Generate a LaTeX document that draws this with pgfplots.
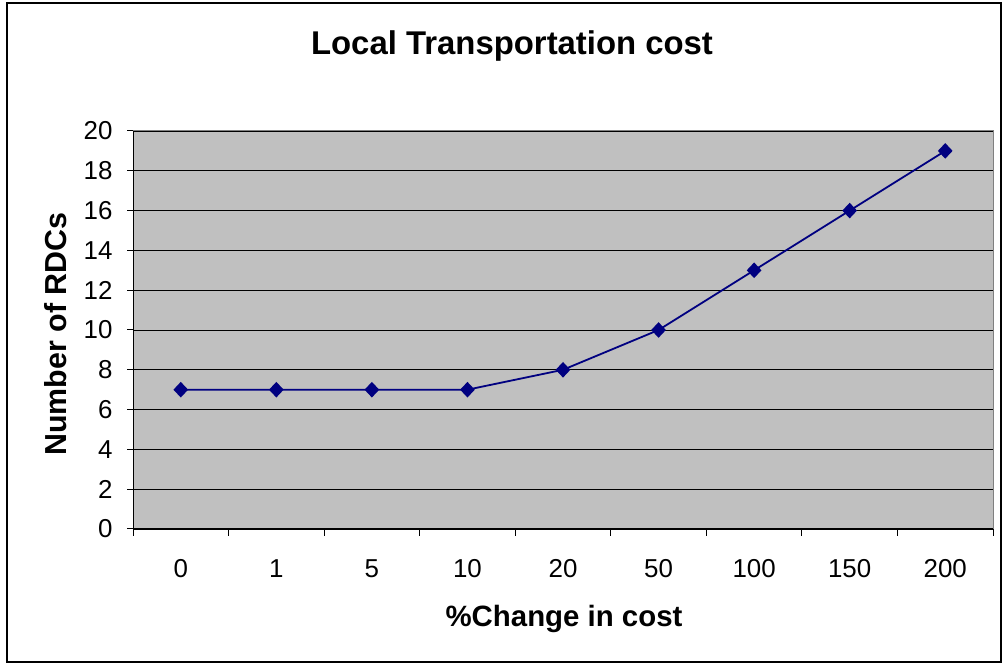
\documentclass[border=0pt]{standalone}
\usepackage{fontspec}
\setmainfont{Liberation Sans}
\usepackage{pgfplots}
\pgfplotsset{compat=1.18}
\definecolor{plotgray}{HTML}{C0C0C0}
\definecolor{seriesblue}{HTML}{000080}
\begin{document}
\begin{tikzpicture}[x=1bp,y=1bp]
% page extent and outer frame
\path (0,0) rectangle (1003,664);
\draw[line width=2.5bp] (7,2) rectangle (1001,661);
% titles
\node[font=\bfseries\fontsize{33}{38}\selectfont] at (512,618) {Local Transportation cost};
\node[font=\bfseries\fontsize{30.5}{34}\selectfont, rotate=90] at (56,330) {Number of RDCs};
\node[font=\bfseries\fontsize{29.5}{34}\selectfont] at (564,45) {\%Change in cost};
\begin{axis}[
  at={(133bp,135bp)}, anchor=south west,
  scale only axis, width=860bp, height=398bp,
  xmin=-0.5, xmax=8.5, ymin=0, ymax=20,
  axis x line*=bottom, axis y line*=left,
  axis line style={line width=1bp, black, -},
  axis background/.style={fill=plotgray, draw=gray, line width=1bp},
  xtick={0,...,8},
  xticklabels={0,1,5,10,20,50,100,150,200},
  major x tick style={draw=none},
  minor xtick={-0.5,0.5,...,8.5},
  minor tick length=7bp,
  minor x tick style={line width=1bp, black},
  ytick={0,2,...,20},
  major tick length=6bp,
  y tick style={line width=1bp, black},
  tick align=outside,
  ymajorgrids,
  major grid style={black, line width=0.8bp},
  ticklabel style={font=\fontsize{26}{30}\selectfont},
  /pgf/number format/assume math mode=true,
  xticklabel style={yshift=-21bp},
  yticklabel style={xshift=-11bp},
]
\addplot[seriesblue, line width=1.8bp, mark=diamond*, mark size=6.5bp,
  mark options={xscale=1.25, fill=seriesblue, draw=seriesblue}]
  coordinates {(0,7) (1,7) (2,7) (3,7) (4,8) (5,10) (6,13) (7,16) (8,19)};
\end{axis}
\end{tikzpicture}
\end{document}
